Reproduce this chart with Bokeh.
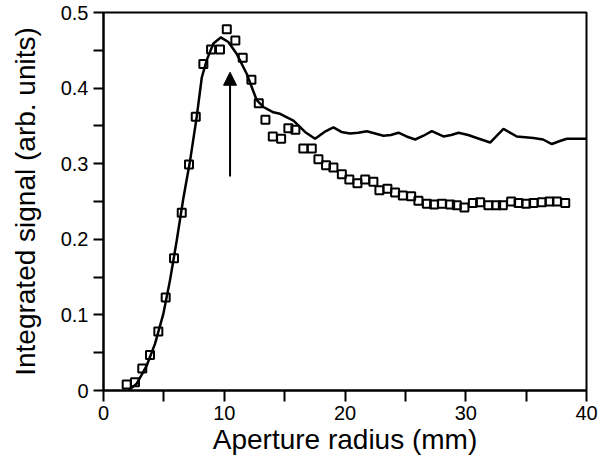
from bokeh.plotting import figure
from bokeh.models import Range1d, FixedTicker, CustomJSTickFormatter, Arrow, NormalHead
from bokeh.embed import file_html
from bokeh.resources import INLINE

# Measured data (squares)
meas_x = [1.92, 2.61, 3.21, 3.85, 4.54, 5.15, 5.84, 6.48, 7.08, 7.64, 8.27, 8.91, 9.65, 10.21,
          10.92, 11.53, 12.25, 12.86, 13.41, 14.02, 14.71, 15.31, 15.89, 16.55, 17.25, 17.80,
          18.43, 19.04, 19.74, 20.36, 21.03, 21.67, 22.35, 22.85, 23.51, 24.15, 24.79, 25.48,
          26.08, 26.78, 27.38, 28.02, 28.71, 29.26, 29.89, 30.59, 31.19, 31.88, 32.52, 33.07,
          33.76, 34.37, 35.00, 35.61, 36.30, 36.93, 37.55, 38.24]
meas_y = [0.008, 0.011, 0.029, 0.047, 0.078, 0.123, 0.175, 0.235, 0.299, 0.362, 0.432, 0.451,
          0.451, 0.478, 0.463, 0.440, 0.411, 0.380, 0.358, 0.336, 0.333, 0.347, 0.345, 0.320,
          0.320, 0.306, 0.298, 0.295, 0.286, 0.279, 0.274, 0.279, 0.276, 0.265, 0.267, 0.262,
          0.258, 0.257, 0.251, 0.247, 0.246, 0.247, 0.246, 0.245, 0.242, 0.248, 0.249, 0.245,
          0.245, 0.245, 0.250, 0.248, 0.247, 0.248, 0.249, 0.250, 0.250, 0.248]

# Calculated curve (solid line)
calc_x = [2.05, 2.75, 3.58, 4.27, 4.95, 5.51, 6.06, 6.61, 7.17, 7.72, 8.14, 8.55, 9.10, 9.71,
          10.34, 11.04, 11.86, 12.69, 13.24, 14.07, 14.62, 15.73, 16.69, 17.52, 18.3, 19.04, 19.7,
          20.42, 21.1, 21.81, 22.5, 23.18, 23.8, 24.42, 25.1, 25.81, 26.5, 27.19, 28.15, 28.8,
          29.40, 30.2, 30.92, 32.02, 33.12, 34.23, 35.61, 36.4, 37.13, 37.8, 38.38, 40.0]
calc_y = [0.0, 0.009, 0.033, 0.062, 0.101, 0.146, 0.198, 0.254, 0.304, 0.362, 0.414, 0.437,
          0.459, 0.467, 0.461, 0.445, 0.419, 0.384, 0.375, 0.368, 0.366, 0.357, 0.342, 0.333,
          0.342, 0.348, 0.342, 0.340, 0.341, 0.343, 0.340, 0.337, 0.338, 0.341, 0.336, 0.332,
          0.337, 0.343, 0.336, 0.338, 0.341, 0.338, 0.334, 0.328, 0.346, 0.336, 0.334, 0.332,
          0.326, 0.330, 0.333, 0.333]

x_ticks = [0, 10, 20, 30, 40]
x_minor = [5, 15, 25, 35]
y_ticks = [0, 0.1, 0.2, 0.3, 0.4, 0.5]
y_minor = [0.05, 0.15, 0.25, 0.35, 0.45]

arrow_x = 10.48
arrow_y_start = 0.283
arrow_y_end = 0.421

FONT = "Liberation Sans"

p = figure(width=600, height=464, output_backend="svg", toolbar_location=None,
           x_range=Range1d(0, 40), y_range=Range1d(0, 0.5),
           min_border_left=103, min_border_right=14, min_border_top=12, min_border_bottom=74)
p.xgrid.visible = False
p.ygrid.visible = False
p.outline_line_color = "black"
p.outline_line_width = 2
p.background_fill_color = "white"
p.border_fill_color = "white"

p.line(calc_x, calc_y, line_color="black", line_width=2.5)
p.scatter(meas_x, meas_y, marker="square", size=8, fill_alpha=0,
          line_color="black", line_width=2)

p.add_layout(Arrow(end=NormalHead(size=13, fill_color="black", line_color="black"),
                   x_start=arrow_x, y_start=arrow_y_start, x_end=arrow_x, y_end=arrow_y_end,
                   line_color="black", line_width=2))

xa = p.xaxis[0]
xa.ticker = FixedTicker(ticks=x_ticks, minor_ticks=x_minor)
xa.axis_label = "Aperture radius (mm)"
ya = p.yaxis[0]
ya.ticker = FixedTicker(ticks=y_ticks, minor_ticks=y_minor)
ya.formatter = CustomJSTickFormatter(code="return tick == 0 ? '0' : tick.toFixed(1);")
ya.axis_label = "Integrated signal (arb. units)"

for ax, tlen in ((xa, 11), (ya, 10)):
    ax.axis_line_width = 2
    ax.axis_line_color = "black"
    ax.major_tick_line_width = 2
    ax.minor_tick_line_width = 2
    ax.major_tick_in = 0
    ax.minor_tick_in = 0
    ax.major_tick_out = tlen
    ax.minor_tick_out = tlen
    ax.major_label_text_font = FONT
    ax.major_label_text_font_size = "20px"
    ax.major_label_text_color = "black"
    ax.axis_label_text_font = FONT
    ax.axis_label_text_font_size = "28px"
    ax.axis_label_text_font_style = "normal"
    ax.axis_label_text_color = "black"

xa.major_label_standoff = 4
xa.axis_label_standoff = 1
ya.major_label_standoff = 5
ya.axis_label_standoff = 17

open("out.html", "w").write(file_html(p, INLINE))
